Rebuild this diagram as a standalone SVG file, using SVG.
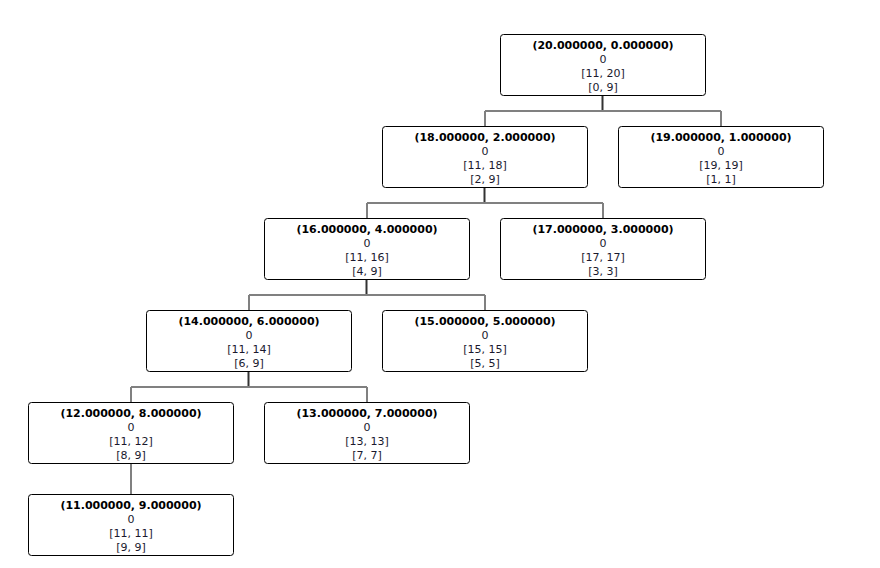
<svg xmlns="http://www.w3.org/2000/svg" width="880" height="568" viewBox="0 0 880 568">
<style>
.box{fill:#fff;stroke:#000;stroke-width:1}
text{font-family:"DejaVu Sans",Verdana,sans-serif;font-size:11px;fill:#1a1a2e;text-anchor:middle}
.t{font-weight:bold;fill:#000}
.pv{stroke:#333;stroke-width:2;fill:none}
.h{stroke:#808080;stroke-width:2;fill:none}
</style>
<rect width="880" height="568" fill="#fff"/>
<g id="connectors">
<path class="pv" d="M602.5 95V111"/><path class="h" d="M485 111H721M485 111V126M721 111V126"/>
<path class="pv" d="M484.5 187V203"/><path class="h" d="M367 203H603M367 203V218M603 203V218"/>
<path class="pv" d="M366.5 279V295"/><path class="h" d="M249 295H485M249 295V310M485 295V310"/>
<path class="pv" d="M248.5 371V387"/><path class="h" d="M131 387H367M131 387V402M367 387V402"/>
<path class="h" d="M131 463V494"/>
</g>
<g id="n20"><rect class="box" x="500.5" y="34.5" width="205" height="61" rx="3"/><text class="t" x="603" y="49">(20.000000, 0.000000)</text><text x="603" y="63">0</text><text x="603" y="77">[11, 20]</text><text x="603" y="91">[0, 9]</text></g>
<g id="n18"><rect class="box" x="382.5" y="126.5" width="205" height="61" rx="3"/><text class="t" x="485" y="141">(18.000000, 2.000000)</text><text x="485" y="155">0</text><text x="485" y="169">[11, 18]</text><text x="485" y="183">[2, 9]</text></g>
<g id="n19"><rect class="box" x="618.5" y="126.5" width="205" height="61" rx="3"/><text class="t" x="721" y="141">(19.000000, 1.000000)</text><text x="721" y="155">0</text><text x="721" y="169">[19, 19]</text><text x="721" y="183">[1, 1]</text></g>
<g id="n16"><rect class="box" x="264.5" y="218.5" width="205" height="61" rx="3"/><text class="t" x="367" y="233">(16.000000, 4.000000)</text><text x="367" y="247">0</text><text x="367" y="261">[11, 16]</text><text x="367" y="275">[4, 9]</text></g>
<g id="n17"><rect class="box" x="500.5" y="218.5" width="205" height="61" rx="3"/><text class="t" x="603" y="233">(17.000000, 3.000000)</text><text x="603" y="247">0</text><text x="603" y="261">[17, 17]</text><text x="603" y="275">[3, 3]</text></g>
<g id="n14"><rect class="box" x="146.5" y="310.5" width="205" height="61" rx="3"/><text class="t" x="249" y="325">(14.000000, 6.000000)</text><text x="249" y="339">0</text><text x="249" y="353">[11, 14]</text><text x="249" y="367">[6, 9]</text></g>
<g id="n15"><rect class="box" x="382.5" y="310.5" width="205" height="61" rx="3"/><text class="t" x="485" y="325">(15.000000, 5.000000)</text><text x="485" y="339">0</text><text x="485" y="353">[15, 15]</text><text x="485" y="367">[5, 5]</text></g>
<g id="n12"><rect class="box" x="28.5" y="402.5" width="205" height="61" rx="3"/><text class="t" x="131" y="417">(12.000000, 8.000000)</text><text x="131" y="431">0</text><text x="131" y="445">[11, 12]</text><text x="131" y="459">[8, 9]</text></g>
<g id="n13"><rect class="box" x="264.5" y="402.5" width="205" height="61" rx="3"/><text class="t" x="367" y="417">(13.000000, 7.000000)</text><text x="367" y="431">0</text><text x="367" y="445">[13, 13]</text><text x="367" y="459">[7, 7]</text></g>
<g id="n11"><rect class="box" x="28.5" y="494.5" width="205" height="61" rx="3"/><text class="t" x="131" y="509">(11.000000, 9.000000)</text><text x="131" y="523">0</text><text x="131" y="537">[11, 11]</text><text x="131" y="551">[9, 9]</text></g>
</svg>
